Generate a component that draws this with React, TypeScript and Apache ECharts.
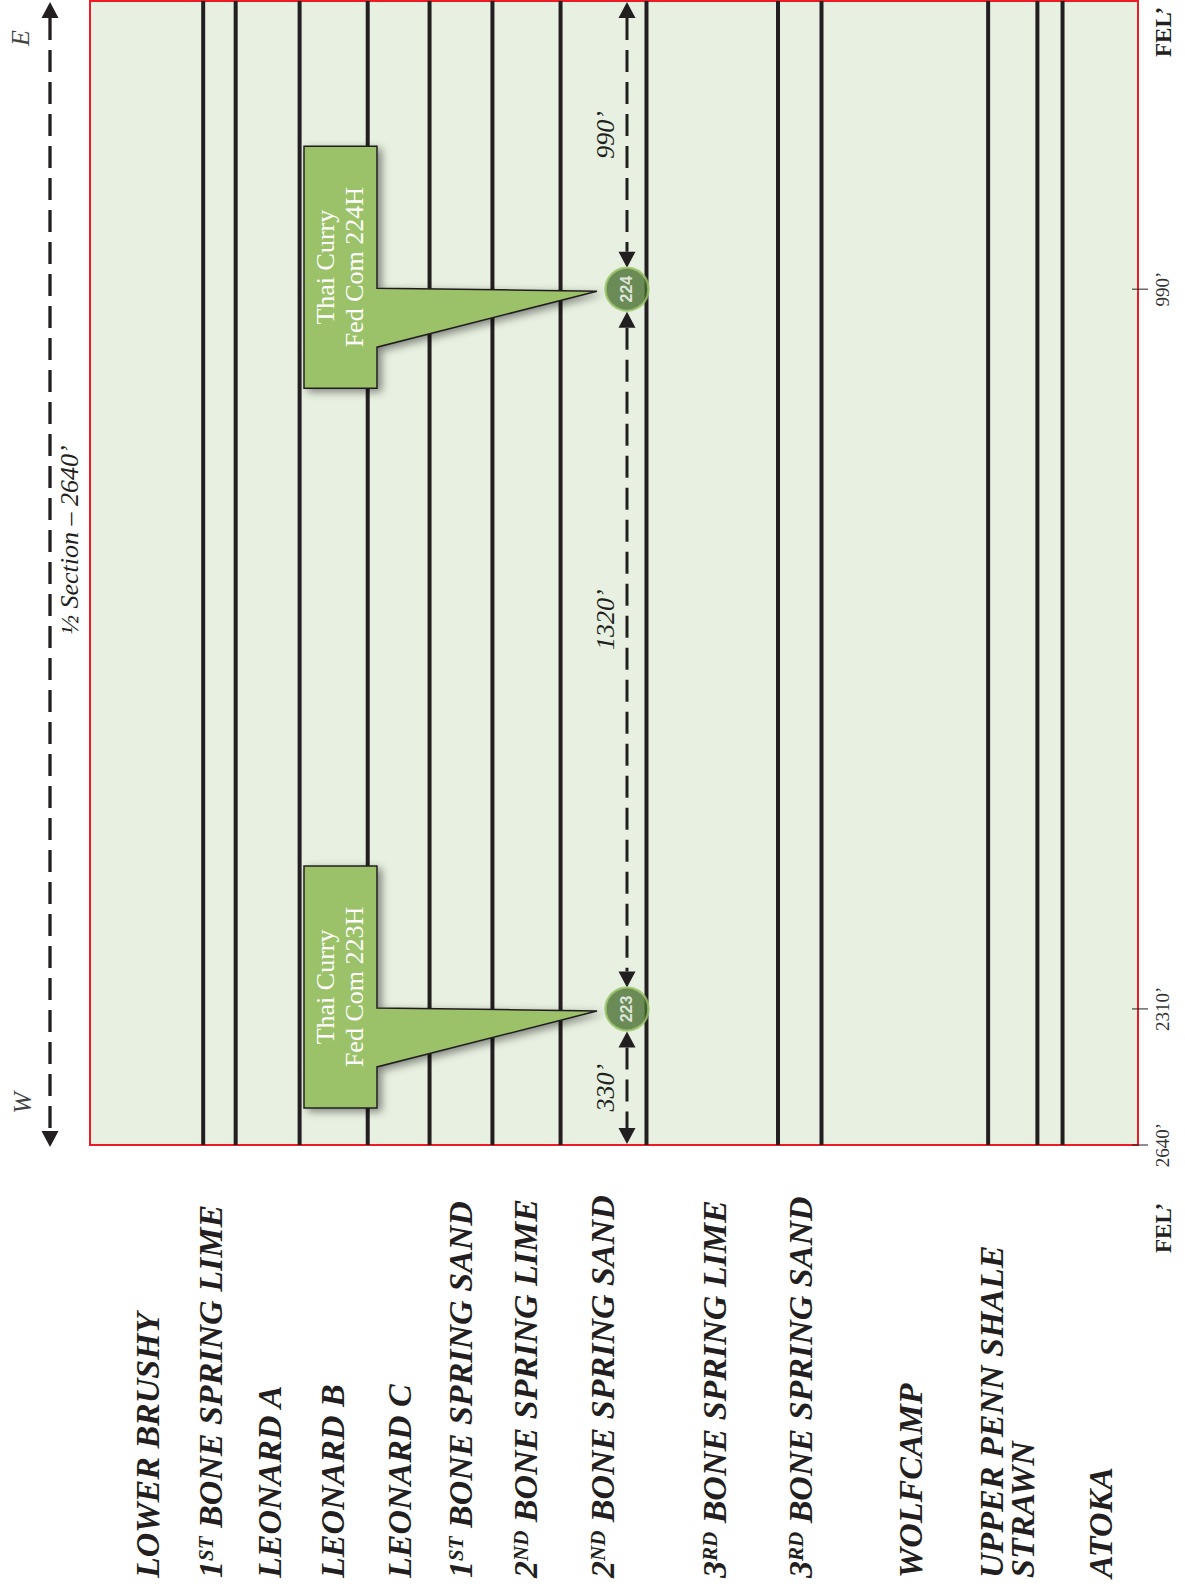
import React, { useEffect, useRef } from 'react';
import * as echarts from 'echarts';

// ---- Data ----
// Formation labels (left = shallow, right = deep), with ordinal parts kept apart
const formationOrdinals = ['', '1', '', '', '', '1', '2', '2', '3', '3', '', '', '', ''];
const formationSuffixes = ['', 'ST', '', '', '', 'ST', 'ND', 'ND', 'RD', 'RD', '', '', '', ''];
const formationNames = [
  'LOWER BRUSHY',
  'BONE SPRING LIME',
  'LEONARD A',
  'LEONARD B',
  'LEONARD C',
  'BONE SPRING SAND',
  'BONE SPRING LIME',
  'BONE SPRING SAND',
  'BONE SPRING LIME',
  'BONE SPRING SAND',
  'WOLFCAMP',
  'UPPER PENN SHALE',
  'STRAWN',
  'ATOKA',
];
// relative depth position (0-100 across the section) of each label and of each formation top line
const formationLabelAt = [5.5, 11.5, 17.1, 23.1, 29.5, 35.4, 41.6, 48.9, 59.6, 67.8, 78.3, 86.0, 89.0, 96.4];
const formationTopLines = [10.8, 13.9, 20.0, 26.5, 32.4, 38.4, 44.9, 53.1, 65.65, 69.8, 85.7, 90.4, 92.8];

// Wells
const wellNumbers = ['224', '223'];
const wellNames = ['Thai Curry\nFed Com 224H', 'Thai Curry\nFed Com 223H'];
const wellFEL = [990, 2310];
const wellDepthAt = [51.24, 51.24];

// FEL scale (schematic is not to scale: feet -> drawn position in feet of the half section)
const felScaleFt = [0, 990, 2310, 2640];
const felDrawnFt = [0, 665, 2326, 2640];
const felTickValues = [990, 2310, 2640];
const felTickLabels = ['990’', '2310’', '2640’'];
const spacingLabels = ['990’', '1320’', '330’'];

const sectionLabel = '½ Section – 2640’';
const eastLabel = 'E';
const westLabel = 'W';
const felLabel = 'FEL’';

// ---- Styles ----
const INK = '#231f20';
const RED = '#ed1c24';
const BG = '#e8f1e1';
const CALLOUT_FILL = '#9bc267';
const WELL_FILL = '#4a7033';
const WELL_RING = '#9cc56c';
const SERIF = '"Liberation Serif", "Times New Roman", serif';
const SANS = '"Liberation Sans", Arial, sans-serif';

const GRID = { left: 90, top: 1, width: 1048, height: 1144 };
const LABEL_BASE_Y = 1578;
const LABEL_SIZE = 34;
const WELL_R = 21.5;
const ARROW_W = 17;
const ARROW_L = 16;
const SPACING_LABEL_SHIFT = [0, -30, 0];
const CALLOUT = { left: -323, right: -250, top: -143, bottom: 99, ptrTop: -1, ptrBottom: 58, tipX: -30, tipY: 2 };

function drawnFt(fel: number): number {
  for (let i = 1; i < felScaleFt.length; i++) {
    if (fel <= felScaleFt[i]) {
      const t = (fel - felScaleFt[i - 1]) / (felScaleFt[i] - felScaleFt[i - 1]);
      return felDrawnFt[i - 1] + t * (felDrawnFt[i] - felDrawnFt[i - 1]);
    }
  }
  return felDrawnFt[felDrawnFt.length - 1];
}

function rotText(x: number, y: number, text: string, style: any, align = 'left', z = 12): any {
  return {
    type: 'text',
    x,
    y,
    rotation: Math.PI / 2,
    z,
    silent: true,
    style: {
      text,
      fill: INK,
      align,
      textAlign: align,
      verticalAlign: 'middle',
      textVerticalAlign: 'middle',
      ...style,
    },
  };
}

export default function App() {
  const ref = useRef<HTMLDivElement>(null);

  useEffect(() => {
    if (!ref.current) return;
    const chart = echarts.init(ref.current, null, { renderer: 'svg' });

    chart.setOption({
      animation: false,
      grid: {
        ...GRID,
        show: true,
        backgroundColor: BG,
        borderColor: RED,
        borderWidth: 2,
        containLabel: false,
      },
      xAxis: { type: 'value', min: 0, max: 100, show: false },
      yAxis: { type: 'value', min: 0, max: 2640, inverse: true, show: false },
      series: [
        {
          type: 'custom',
          z: 2,
          silent: true,
          data: formationTopLines.map((v) => [v, 0]),
          encode: { x: 0, y: 1 },
          renderItem: (_params: any, api: any) => {
            const top = api.coord([api.value(0), 0]);
            const bot = api.coord([api.value(0), 2640]);
            return {
              type: 'line',
              shape: { x1: top[0], y1: top[1], x2: bot[0], y2: bot[1] },
              style: { stroke: INK, lineWidth: 4 },
            };
          },
        },
        {
          type: 'scatter',
          z: 20,
          silent: true,
          symbol: 'circle',
          symbolSize: WELL_R * 2,
          itemStyle: { color: WELL_FILL, borderColor: WELL_RING, borderWidth: 2.5 },
          label: {
            show: true,
            position: 'inside',
            formatter: '{b}',
            rotate: 90,
            color: '#ffffff',
            fontSize: 16,
            fontWeight: 'bold',
            fontFamily: SANS,
          },
          data: wellNumbers.map((n, i) => ({ name: n, value: [wellDepthAt[i], drawnFt(wellFEL[i])] })),
        },
      ],
    });

    const px = (x: number, y: number): number[] => chart.convertToPixel({ gridIndex: 0 }, [x, y]) as number[];
    const gridTop = px(0, 0)[1];
    const gridBot = px(0, 2640)[1];
    const gridLeft = px(0, 0)[0];
    const gridRight = px(100, 0)[0];

    const els: any[] = [];

    const arrowHead = (x: number, tipY: number, dir: 1 | -1, z = 8) => ({
      type: 'polygon',
      z,
      silent: true,
      shape: {
        points: [
          [x, tipY],
          [x - ARROW_W / 2, tipY + dir * ARROW_L],
          [x + ARROW_W / 2, tipY + dir * ARROW_L],
        ],
      },
      style: { fill: INK },
    });
    const dashed = (x: number, y1: number, y2: number, w = 3, z = 7) => ({
      type: 'line',
      z,
      silent: true,
      shape: { x1: x, y1, x2: x, y2 },
      style: { stroke: INK, lineWidth: w, lineDash: [22, 10] },
    });

    // Section (W-E) arrow on the left
    const secX = gridLeft - 40;
    els.push(dashed(secX, gridTop + ARROW_L + 1, gridBot + 2 - ARROW_L, 3.3));
    els.push(arrowHead(secX, gridTop + 1, 1));
    els.push(arrowHead(secX, gridBot + 2, -1));
    els.push(rotText(gridLeft - 70, gridTop + 37, eastLabel, { fontSize: 26, fontStyle: 'italic', fontFamily: SERIF, fill: '#444' }, 'center'));
    els.push(rotText(gridLeft - 68, gridBot - 42, westLabel, { fontSize: 26, fontStyle: 'italic', fontFamily: SERIF, fill: '#444' }, 'center'));
    els.push(rotText(gridLeft - 21, (gridTop + gridBot) / 2 - 33, sectionLabel, { fontSize: 26, fontStyle: 'italic', fontFamily: SERIF }, 'center'));

    // Well spacing dimension line
    const wellPx = wellNumbers.map((_, i) => px(wellDepthAt[i], drawnFt(wellFEL[i])));
    const dimX = wellPx[0][0];
    const stops: number[][] = [
      [gridTop + 1, wellPx[0][1] - WELL_R],
      [wellPx[0][1] + WELL_R + 1, wellPx[1][1] - WELL_R],
      [wellPx[1][1] + WELL_R + 1, gridBot - 1],
    ];
    stops.forEach(([a, b], i) => {
      els.push(dashed(dimX, a + ARROW_L, b - ARROW_L, 3));
      els.push(arrowHead(dimX, a, 1));
      els.push(arrowHead(dimX, b, -1));
      els.push(
        rotText(dimX - 21, (a + b) / 2 + SPACING_LABEL_SHIFT[i], spacingLabels[i], { fontSize: 26, fontStyle: 'italic', fontFamily: SERIF }, 'center')
      );
    });

    // Callouts
    wellPx.forEach(([wx, wy], i) => {
      const c = CALLOUT;
      els.push({
        type: 'polygon',
        z: 10,
        silent: true,
        shape: {
          points: [
            [wx + c.left, wy + c.top],
            [wx + c.right, wy + c.top],
            [wx + c.right, wy + c.ptrTop],
            [wx + c.tipX, wy + c.tipY],
            [wx + c.right, wy + c.ptrBottom],
            [wx + c.right, wy + c.bottom],
            [wx + c.left, wy + c.bottom],
          ],
        },
        style: {
          fill: CALLOUT_FILL,
          stroke: INK,
          lineWidth: 1.5,
          shadowBlur: 8,
          shadowColor: 'rgba(0,0,0,0.45)',
          shadowOffsetX: 4,
          shadowOffsetY: 3,
        },
      });
      els.push(
        rotText(wx + (c.left + c.right) / 2, wy - 22, wellNames[i], {
          fontSize: 26,
          lineHeight: 29,
          fontFamily: SERIF,
          fill: '#ffffff',
        }, 'center', 11)
      );
    });

    // FEL ticks on the right
    felTickValues.forEach((v, i) => {
      const y = px(100, drawnFt(v))[1];
      els.push({
        type: 'line',
        z: 9,
        silent: true,
        shape: { x1: gridRight - 6, y1: y, x2: gridRight + 10, y2: y },
        style: { stroke: INK, lineWidth: 1 },
      });
      els.push(rotText(gridRight + 24, y, felTickLabels[i], { fontSize: 19, fontFamily: SERIF, fill: '#333' }, 'center'));
    });
    els.push(rotText(gridRight + 25, gridTop + 56, felLabel, { fontSize: 23, fontWeight: 'bold', fontFamily: SERIF }, 'left'));
    els.push(rotText(gridRight + 25, 1253, felLabel, { fontSize: 23, fontWeight: 'bold', fontFamily: SERIF }, 'left'));

    // Formation labels under the section
    const labelFont = { fontFamily: SERIF, fontWeight: 'bold', fontStyle: 'italic', fill: INK };
    formationNames.forEach((name, i) => {
      const x = px(formationLabelAt[i], 0)[0];
      const ord = formationOrdinals[i];
      const text = ord ? `{o|${ord}}{s|${formationSuffixes[i]}}{m| ${name}}` : `{m|${name}}`;
      els.push({
        type: 'text',
        x,
        y: LABEL_BASE_Y,
        rotation: Math.PI / 2,
        z: 12,
        silent: true,
        style: {
          text,
          align: 'left',
          textAlign: 'left',
          verticalAlign: 'middle',
          textVerticalAlign: 'middle',
          fill: INK,
          ...labelFont,
          fontSize: LABEL_SIZE,
          rich: {
            m: { ...labelFont, fontSize: LABEL_SIZE, lineHeight: 36, verticalAlign: 'middle' },
            o: { ...labelFont, fontSize: LABEL_SIZE, lineHeight: 36, verticalAlign: 'middle' },
            s: { ...labelFont, fontSize: 21, lineHeight: 22, verticalAlign: 'top', padding: [3, 0, 0, 0] },
          },
        },
      });
    });

    chart.setOption({ graphic: { elements: els } });

    return () => {
      chart.dispose();
    };
  }, []);

  return (
    <div
      ref={ref}
      style={{ position: 'absolute', left: 0, top: 0, width: 1185, height: 1591, background: '#ffffff' }}
    />
  );
}
